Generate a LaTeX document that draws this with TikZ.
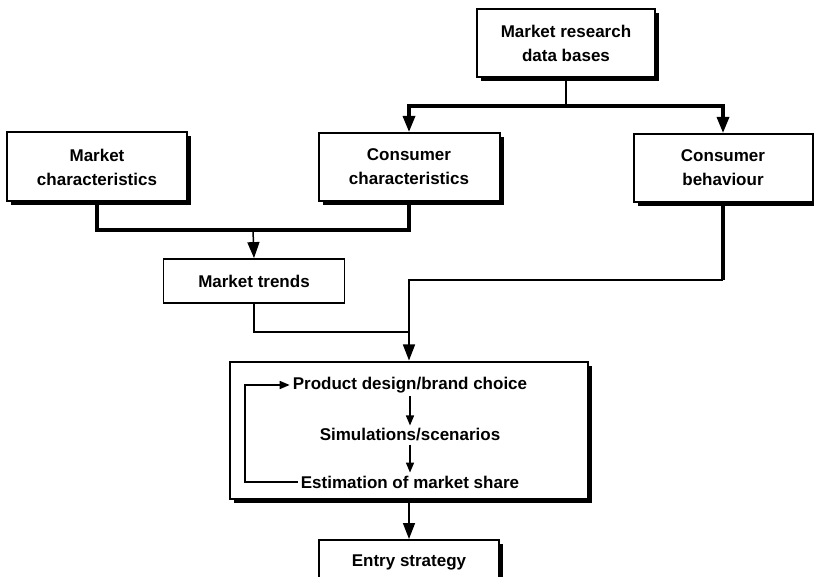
\documentclass[tikz,border=0pt]{standalone}
\usepackage{fontspec}
\setmainfont{Liberation Sans}
\usetikzlibrary{arrows.meta,shadows}

\begin{document}
\begin{tikzpicture}[x=1pt, y=-1pt, font=\bfseries\fontsize{17}{24}\selectfont]
    \tikzset{mainbox/.style={rectangle, draw, line width=2pt, fill=white, align=center,
      inner sep=2pt, drop shadow={shadow xshift=4pt, shadow yshift=-4pt, fill=black, opacity=1}}}
    \tikzset{plainbox/.style={rectangle, draw, line width=1.8pt, fill=white, align=center}}
    \tikzset{stage/.style={inner sep=3pt}}
    \tikzset{thickline/.style={line width=3.2pt}}
    \tikzset{thinline/.style={line width=1.5pt}}
    \tikzset{bigarrow/.style={-{Triangle[length=16pt, width=12pt]}}}
    \tikzset{smallarrow/.style={-{Triangle[length=10pt, width=8pt]}}}

    \path[use as bounding box, clip] (0,0) rectangle (814,577);

    % Source boxes
    \node[mainbox, minimum width=178pt, minimum height=68pt] (mrdb) at (566,43)
      {Market research\\data bases};
    \node[mainbox, minimum width=180pt, minimum height=69pt] (mchar) at (97,167)
      {Market\\characteristics};
    \node[mainbox, minimum width=181pt, minimum height=68pt] (cchar) at (409,167)
      {Consumer\\characteristics};
    \node[mainbox, minimum width=179pt, minimum height=68pt] (cbeh) at (723,168)
      {Consumer\\behaviour};
    \node[plainbox, minimum width=181pt, minimum height=44pt] (mtrend) at (254,281)
      {Market trends};

    % Model box
    \node[mainbox, minimum width=358pt, minimum height=137pt] (model) at (409,430) {};
    \node[stage] (prod) at (410,385) {Product design/brand choice};
    \node[stage] (sim) at (410,435) {Simulations/scenarios};
    \node[stage] (est) at (410,482) {Estimation of market share};

    % Entry box
    \node[mainbox, minimum width=180pt, minimum height=44pt] (entry) at (409,562)
      {Entry strategy};

    % Split of the data bases
    \coordinate (split) at (566,106);
    \draw[thinline] (mrdb.south) -- (split);
    \draw[thickline, bigarrow] (split) -| (cchar.north);
    \draw[thickline, bigarrow] (split) -| (cbeh.north);

    % Merge into market trends
    \coordinate (merge) at (253,230);
    \draw[thickline] (mchar.south) |- (cchar.south |- merge) -- (cchar.south);
    \draw[thinline, bigarrow] (merge) -- (mtrend.north);

    % Inputs of the model
    \coordinate (turn) at (723,280);
    \coordinate (join) at (409,332);
    \draw[thickline] (cbeh.south) -- (turn);
    \draw[thinline, bigarrow] (turn) -| (model.north);
    \draw[thinline] (mtrend.south) |- (join);

    % Steps inside the model
    \draw[thinline, smallarrow] (prod.south) -- (sim.north);
    \draw[thinline, smallarrow] (sim.south) -- (est.north);
    \coordinate (back) at (245,482);
    \draw[thinline, smallarrow] (est.west) -- (back) |- (prod.west);

    % Output
    \draw[thinline, bigarrow] (model.south) -- (entry.north);
\end{tikzpicture}
\end{document}
